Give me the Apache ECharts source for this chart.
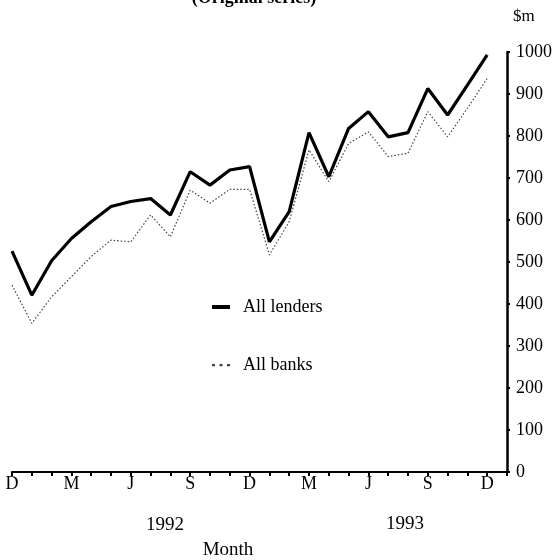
<!DOCTYPE html>
<html>
<head>
<meta charset="utf-8">
<script src="https://cdn.jsdelivr.net/npm/echarts@6/dist/echarts.min.js"></script>
<style>
  html, body { margin: 0; padding: 0; background: #fff; }
  #chart { width: 560px; height: 560px; }
</style>
</head>
<body>
<div id="chart"></div>
<script>
// months Dec 1991 .. Jan 1994 (last one has no data, axis runs to it)
var months = ['D','J','F','M','A','M','J','J','A','S','O','N',
              'D','J','F','M','A','M','J','J','A','S','O','N','D','J'];
var allLenders = [526, 421, 503, 556, 596, 632, 644, 651, 612, 715, 683, 719, 727,
                  548, 620, 808, 703, 818, 858, 798, 808, 913, 850, 921, 993, null];
var allBanks = [445, 354, 417, 465, 513, 552, 548, 612, 560, 671, 640, 673, 673,
                517, 596, 767, 691, 782, 810, 751, 759, 858, 798, 866, 937, null];
var yearLabels = ['1992', '1993'];

var font = '"Liberation Serif", "DejaVu Serif", serif';
var chart = echarts.init(document.getElementById('chart'));

var option = {
  backgroundColor: '#fff',
  animation: false,
  textStyle: { fontFamily: font, color: '#000' },
  title: {
    text: '(Original series)',
    left: 254,
    top: -11,
    padding: 0,
    textAlign: 'center',
    textStyle: { fontFamily: font, fontSize: 18, fontWeight: 'bold', color: '#000' }
  },
  grid: { left: 12, right: 53, top: 52, bottom: 88 },
  legend: {
    orient: 'vertical',
    left: 207,
    top: 292,
    itemGap: 38,
    itemWidth: 18,
    itemHeight: 14,
    textStyle: { fontFamily: font, fontSize: 18, color: '#000', lineHeight: 20, padding: [0, 0, 0, 8] },
    data: [
      { name: 'All lenders', icon: 'path://M0,0h18v4h-18z', itemStyle: { color: '#000' } },
      { name: 'All banks', icon: 'path://M0,0h2v1.5h-2zM5,0h2v1.5h-2zM10,0h2v1.5h-2z', itemStyle: { color: '#444' } }
    ]
  },
  xAxis: {
    type: 'category',
    data: months,
    boundaryGap: false,
    axisLine: { lineStyle: { color: '#000', width: 2 } },
    axisTick: { show: true, interval: 0, length: 4, lineStyle: { color: '#000', width: 2 } },
    axisLabel: { interval: 2, color: '#000', fontFamily: font, fontSize: 18, margin: 3 },
    splitLine: { show: false }
  },
  yAxis: {
    type: 'value',
    position: 'right',
    min: 0,
    max: 1000,
    interval: 100,
    name: '$m',
    nameLocation: 'end',
    nameGap: 27,
    nameTextStyle: { fontFamily: font, fontSize: 17, color: '#000', align: 'left', padding: [0, 0, 0, 6] },
    axisLine: { show: true, lineStyle: { color: '#000', width: 2.5 } },
    axisTick: { show: true, length: 3, lineStyle: { color: '#000', width: 2 } },
    axisLabel: {
      color: '#000', fontFamily: font, fontSize: 18, margin: 9,
      formatter: function (v) { return String(v); }
    },
    splitLine: { show: false }
  },
  graphic: [
    { type: 'text', style: { x: 165, y: 525, text: yearLabels[0], font: '19px ' + font, fill: '#000', textAlign: 'center', textVerticalAlign: 'middle' } },
    { type: 'text', style: { x: 405, y: 524, text: yearLabels[1], font: '19px ' + font, fill: '#000', textAlign: 'center', textVerticalAlign: 'middle' } },
    { type: 'text', style: { x: 228, y: 550, text: 'Month', font: '19px ' + font, fill: '#000', textAlign: 'center', textVerticalAlign: 'middle' } }
  ],
  series: [
    {
      name: 'All lenders',
      type: 'line',
      data: allLenders,
      symbol: 'none',
      itemStyle: { color: '#000' },
      lineStyle: { color: '#000', width: 3.2 }
    },
    {
      name: 'All banks',
      type: 'line',
      data: allBanks,
      symbol: 'none',
      itemStyle: { color: '#444' },
      lineStyle: { color: '#444', width: 1.2, type: [1.5, 2] }
    }
  ]
};
chart.setOption(option);
</script>
</body>
</html>
